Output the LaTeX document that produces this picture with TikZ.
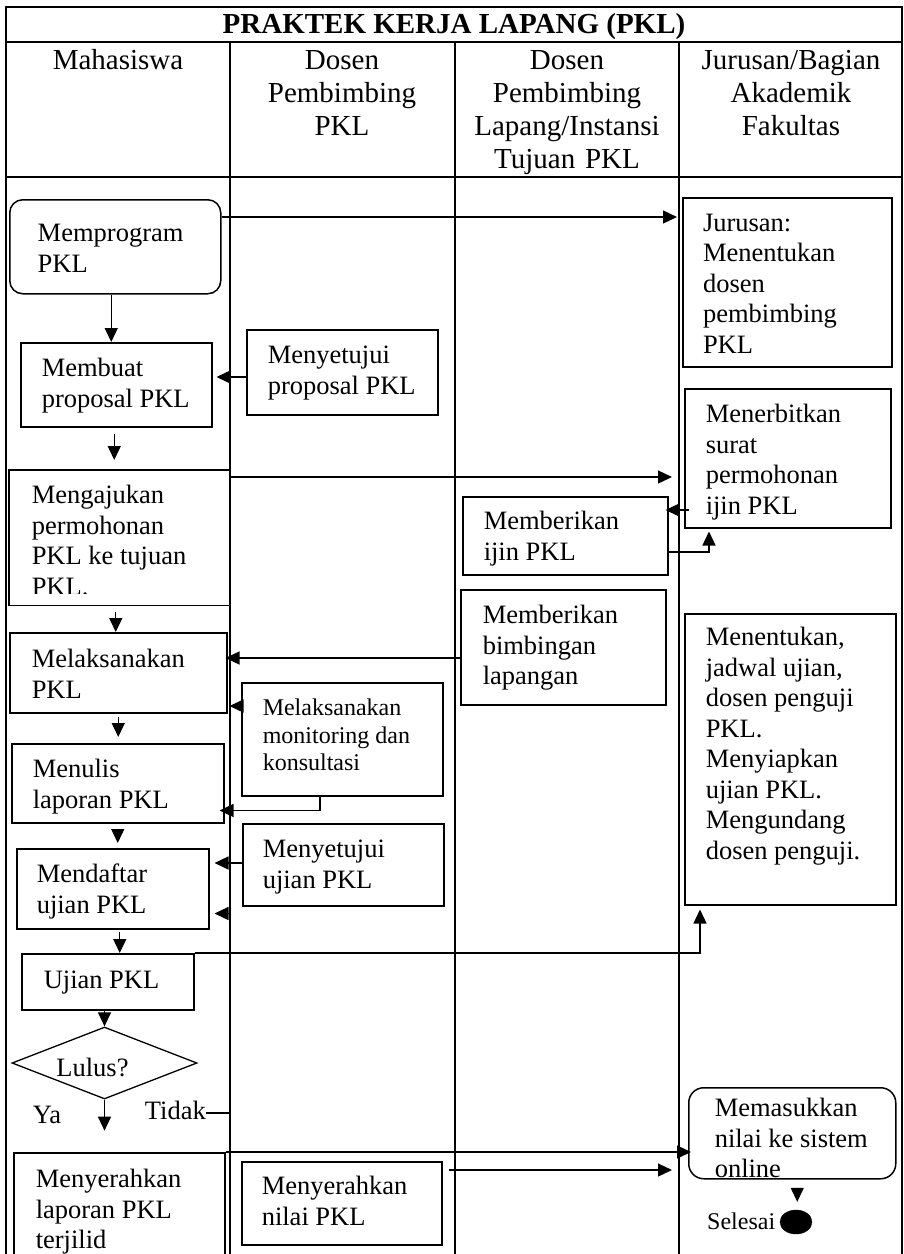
\documentclass[tikz,border=0pt]{standalone}
\usepackage{fontspec}
\setmainfont{Liberation Serif}
\usetikzlibrary{arrows.meta,shapes.geometric}

\newcommand\hdrfont{\fontsize{29}{33}\selectfont}
\newcommand\bodyfont{\fontsize{26.5}{30.5}\selectfont}
\newcommand\smallfont{\fontsize{24}{27.5}\selectfont}

\tikzset{
  lane/.style={line width=2pt},
  box/.style={draw, line width=1.5pt, inner sep=0pt, align=flush left, anchor=north west, font=\bodyfont},
  rbox/.style={box, rounded corners=14pt},
  hdr/.style={font=\hdrfont, align=center, text width=220pt, inner sep=0pt, anchor=base},
  flow/.style={line width=1.3pt, -{Triangle[length=14pt,width=13pt]}},
  lbl/.style={font=\bodyfont, inner sep=0pt, anchor=base},
}

\begin{document}
\begin{tikzpicture}[x=1pt,y=-1pt]
\useasboundingbox (0,0) rectangle (904,1254);
\clip (0,0) rectangle (904,1254);
\fill[white] (0,0) rectangle (904,1254);

% swimlane frame
\draw[lane] (6,1260) -- (6,7) -- (902,7) -- (902,1260);
\draw[lane] (6,42) -- (902,42);
\draw[lane] (6,177) -- (902,177);
\foreach \x in {230,455,679} \draw[lane] (\x,42) -- (\x,1260);

% title and lane headings
\node[font=\hdrfont\bfseries, inner sep=0pt, anchor=base] (title) at (454,33) {PRAKTEK KERJA LAPANG (PKL)};
\node[hdr] (h1) at (118,69) {Mahasiswa};
\node[hdr] (h2) at (342,69) {Dosen\\Pembimbing\\PKL};
\node[hdr] (h3) at (567,69) {Dosen\\Pembimbing\\Lapang/Instansi\\Tujuan PKL};
\node[hdr] (h4) at (791,69) {Jurusan/Bagian\\Akademik\\Fakultas};

% activities (\leftskip gives the left text margin inside each box)
\node[rbox, rounded corners=13pt, text width=211pt, text height=42pt, text depth=52pt] (mprog) at (9,199) {\leftskip=28pt Memprogram\\PKL\par};
\node[box, line width=2pt, text width=209pt, text height=33pt, text depth=136pt] (jur1) at (682,197) {\leftskip=20pt Jurusan:\\Menentukan\\dosen\\pembimbing\\PKL\par};
\node[box, text width=191pt, text height=34pt, text depth=50pt] (buat) at (20,342) {\leftskip=21pt Membuat\\proposal PKL\par};
\node[box, text width=191pt, text height=34pt, text depth=51pt] (setuju1) at (246,329) {\leftskip=21pt Menyetujui\\proposal PKL\par};
\begin{scope}
  \clip (0,0) rectangle (904,593);
  \node[box, draw=none, text width=219pt, text height=33pt, text depth=101pt] (ajukan) at (9,470) {\leftskip=22pt Mengajukan\\permohonan\\PKL ke tujuan\\PKL.\par};
\end{scope}
\draw[line width=1.5pt] (ajukan.north west) rectangle (ajukan.south east);
\node[box, text width=206pt, text height=34pt, text depth=105pt] (terbit) at (684,388) {\leftskip=21pt Menerbitkan\\surat\\permohonan\\ijin PKL\par};
\node[box, text width=205pt, text height=33pt, text depth=45pt] (ijin) at (462,496) {\leftskip=21pt Memberikan\\ijin PKL\par};
\node[box, text width=205pt, text height=34pt, text depth=81pt] (bimb) at (460,589) {\leftskip=22pt Memberikan\\bimbingan\\lapangan\par};
\node[box, text width=217pt, text height=35pt, text depth=45pt] (laks) at (9,632) {\leftskip=22pt Melaksanakan\\PKL\par};
\node[box, font=\smallfont, text width=201pt, text height=33pt, text depth=80pt] (monit) at (241,682) {\leftskip=21pt Melaksanakan\\monitoring dan\\konsultasi\par};
\node[box, text width=212pt, text height=34pt, text depth=45pt] (tulis) at (11,743) {\leftskip=21pt Menulis\\laporan PKL\par};
\node[box, text width=201pt, text height=34pt, text depth=48pt] (setuju2) at (242,823) {\leftskip=20pt Menyetujui\\ujian PKL\par};
\node[box, text width=192pt, text height=34pt, text depth=46pt] (daftar) at (16,848) {\leftskip=20pt Mendaftar\\ujian PKL\par};
\node[box, text width=172pt, text height=35pt, text depth=21pt] (ujian) at (21,953) {\leftskip=22pt Ujian PKL\par};
\node[box, text width=211pt, text height=32pt, text depth=259pt] (tentukan) at (684,613) {\leftskip=21pt Menentukan,\\jadwal ujian,\\dosen penguji\\PKL.\\Menyiapkan\\ujian PKL.\\Mengundang\\dosen penguji.\par};
\node[draw, diamond, aspect=2.57, line width=1.3pt, inner sep=0pt, minimum width=185pt, minimum height=72pt, font=\bodyfont, text height=26pt, text depth=0pt] (lulus) at (104.5,1063) {Lulus?\hspace*{24pt}};
\node[lbl] (ya) at (47,1123) {Ya};
\node[lbl, anchor=base east] (tidak) at (206,1119) {Tidak};
\node[box, text width=211pt, text height=35pt, text depth=90pt] (serah) at (13,1152) {\leftskip=22pt Menyerahkan\\laporan PKL\\terjilid\par};
\node[box, text width=200pt, text height=33pt, text depth=50pt] (nilai) at (241,1161) {\leftskip=20pt Menyerahkan\\nilai PKL\par};
\node[rbox, rounded corners=15pt, text width=207pt, text height=29pt, text depth=62pt] (mas) at (688,1087) {\leftskip=26pt Memasukkan\\nilai ke sistem\\online\par};
\node[draw, fill=black, ellipse, inner sep=0pt, minimum width=32pt, minimum height=24pt] (fin) at (796,1222) {};
\node[font=\smallfont, inner sep=0pt, anchor=base west] (selesai) at (707,1229) {Selesai};

% connectors
\coordinate (c1) at ([yshift=-20pt]jur1.north west);
\draw[flow, shorten >=5pt] (mprog.east |- c1) -- (c1);
\coordinate (c2) at ([xshift=-4pt]mprog.south);
\draw[flow] (c2) -- (c2 |- buat.north);
\coordinate (c3) at ([yshift=-48pt]setuju1.north west);
\draw[flow, shorten >=4pt] (c3) -- (c3 -| buat.east);
\coordinate (c4) at ([xshift=-2pt,yshift=-6pt]buat.south);
\draw[flow, shorten >=10pt] (c4) -- (c4 |- ajukan.north);
\coordinate (c5) at ([yshift=-7pt]ajukan.north east);
\draw[flow, shorten >=12pt] (c5) -- (c5 -| terbit.west);
\coordinate (c6) at ([xshift=5pt,yshift=-122pt]terbit.north west);
\draw[flow, shorten >=-3pt] (c6) -- (c6 -| ijin.east);
\coordinate (c7) at ([yshift=-56pt]ijin.north east);
\coordinate (c8) at ([xshift=25pt]terbit.south west);
\draw[flow, shorten >=3pt] (c7) -| (c8);
\coordinate (c9) at ([yshift=-69pt]bimb.north west);
\draw[flow, shorten >=-2pt] (c9) -- (c9 -| laks.east);
\coordinate (c10) at ([xshift=-3.5pt,yshift=-6pt]ajukan.south);
\draw[flow] (c10) -- (c10 |- laks.north);
\coordinate (c11) at ([yshift=-24pt]monit.north west);
\draw[flow, shorten >=2pt] (c11) -- (c11 -| laks.east);
\coordinate (c12) at ([xshift=79pt]monit.south west);
\coordinate (c13) at ([yshift=-14pt]c12);
\draw[flow, shorten >=-5pt] (c12) |- (c13 -| tulis.east);
\coordinate (c14) at ([yshift=-3pt]laks.south);
\draw[flow, shorten >=6pt] (c14) -- (c14 |- tulis.north);
\coordinate (c15) at ([yshift=-5pt]tulis.south);
\draw[flow, shorten >=5pt] (c15) -- (c15 |- daftar.north);
\coordinate (c16) at ([yshift=-40pt]setuju2.north west);
\draw[flow, shorten >=5pt] (c16) -- (c16 -| daftar.east);
\coordinate (c17) at ([xshift=7pt,yshift=-2pt]daftar.south);
\draw[flow] (c17) -- (c17 |- ujian.north);
\coordinate (c18) at ([xshift=16pt]tentukan.south west);
\draw[flow, shorten >=4pt] (ujian.north east) -| (c18);
\draw[flow] (ujian.south -| lulus.north) -- (lulus.north);
\coordinate (yaend) at ([yshift=-31pt]lulus.south);
\draw[flow] (lulus.south) -- (yaend);
\coordinate (tk) at ([xshift=20pt,yshift=16pt]daftar.south east);
\draw[flow, shorten >=5pt] ([yshift=-3pt]tidak.east) -| (tk) -- (tk -| daftar.east);
\draw[flow, shorten >=-3pt] (serah.north east) -- (serah.north east -| mas.west);
\coordinate (c19) at ([xshift=6pt,yshift=-9pt]nilai.north east);
\draw[flow, shorten >=16pt] (c19) -- (c19 -| mas.west);
\coordinate (c20) at ([xshift=5pt,yshift=-8pt]mas.south);
\draw[flow, shorten >=8pt] (c20) -- (c20 |- fin.north);
\end{tikzpicture}
\end{document}
